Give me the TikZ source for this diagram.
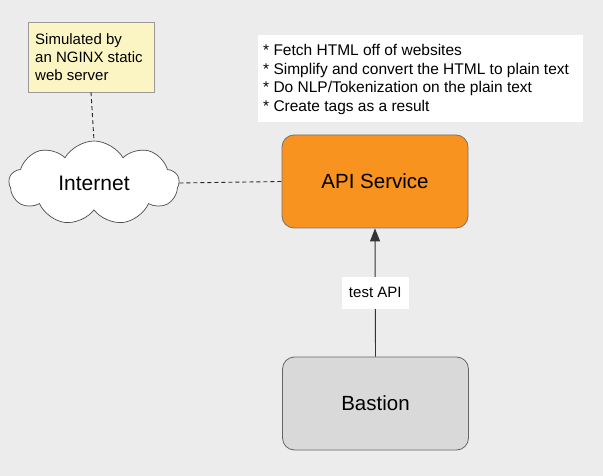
\documentclass[tikz,border=0pt]{standalone}
\usepackage{fontspec}
\setmainfont{Liberation Sans}
\usetikzlibrary{shapes.symbols,arrows.meta}
\definecolor{bg}{HTML}{ECECEC}
\definecolor{notefill}{HTML}{FBF5C4}
\definecolor{apifill}{HTML}{F7931E}
\definecolor{bastfill}{HTML}{D9D9D9}
\tikzset{
  x=1pt,y=-1pt,
  box/.style={draw=#1, line width=0.8pt, rounded corners=12pt, minimum width=186pt, minimum height=93pt, font=\fontsize{20.5}{24}\selectfont},
  dashline/.style={draw=black!85, dash pattern=on 4pt off 3pt, line width=0.9pt},
  plainline/.style={draw=black!80, line width=0.9pt},
}
\begin{document}
\begin{tikzpicture}
\fill[bg] (0,0) rectangle (603,476);
\useasboundingbox (0,0) rectangle (603,476);
\node[draw=black!40, fill=notefill, line width=0.5pt, minimum width=126pt, minimum height=70pt, inner sep=0pt] (note) at (91,57) {};
\node[anchor=north west, inner sep=0pt, align=left, font=\fontsize{15}{18}\selectfont] (notetxt) at (35,33) {Simulated by\\an NGINX static\\web server};
\node[cloud, cloud puffs=9, cloud puff arc=120, aspect=2.1, draw=black!70, fill=white, line width=0.7pt, minimum width=170pt, minimum height=84pt, font=\fontsize{21}{24}\selectfont] (net) at (94,183) {Internet};
\node[fill=white, minimum width=325pt, minimum height=87pt, anchor=north west, inner sep=0pt] (list) at (258,35) {};
\node[anchor=north west, inner sep=0pt, align=left, font=\fontsize{15.5}{18.7}\selectfont] (listtxt) at (263,44) {* Fetch HTML off of websites\\* Simplify and convert the HTML to plain text\\* Do NLP/Tokenization on the plain text\\* Create tags as a result};
\node[box=black!55, fill=apifill] (api) at (375,181.5) {API Service};
\node[box=black!60, fill=bastfill] (bast) at (375.5,403.5) {Bastion};
\draw[dashline] (note.south) -- (net.north);
\draw[dashline] (net.east) -- (api.west);
\draw[plainline, -{Triangle[length=13pt,width=10pt]}] (bast.north) -- node[fill=white, inner sep=4pt, font=\fontsize{15}{18}\selectfont, minimum height=32pt, minimum width=67pt] (lbl) {test API} (api.south);
\end{tikzpicture}
\end{document}
